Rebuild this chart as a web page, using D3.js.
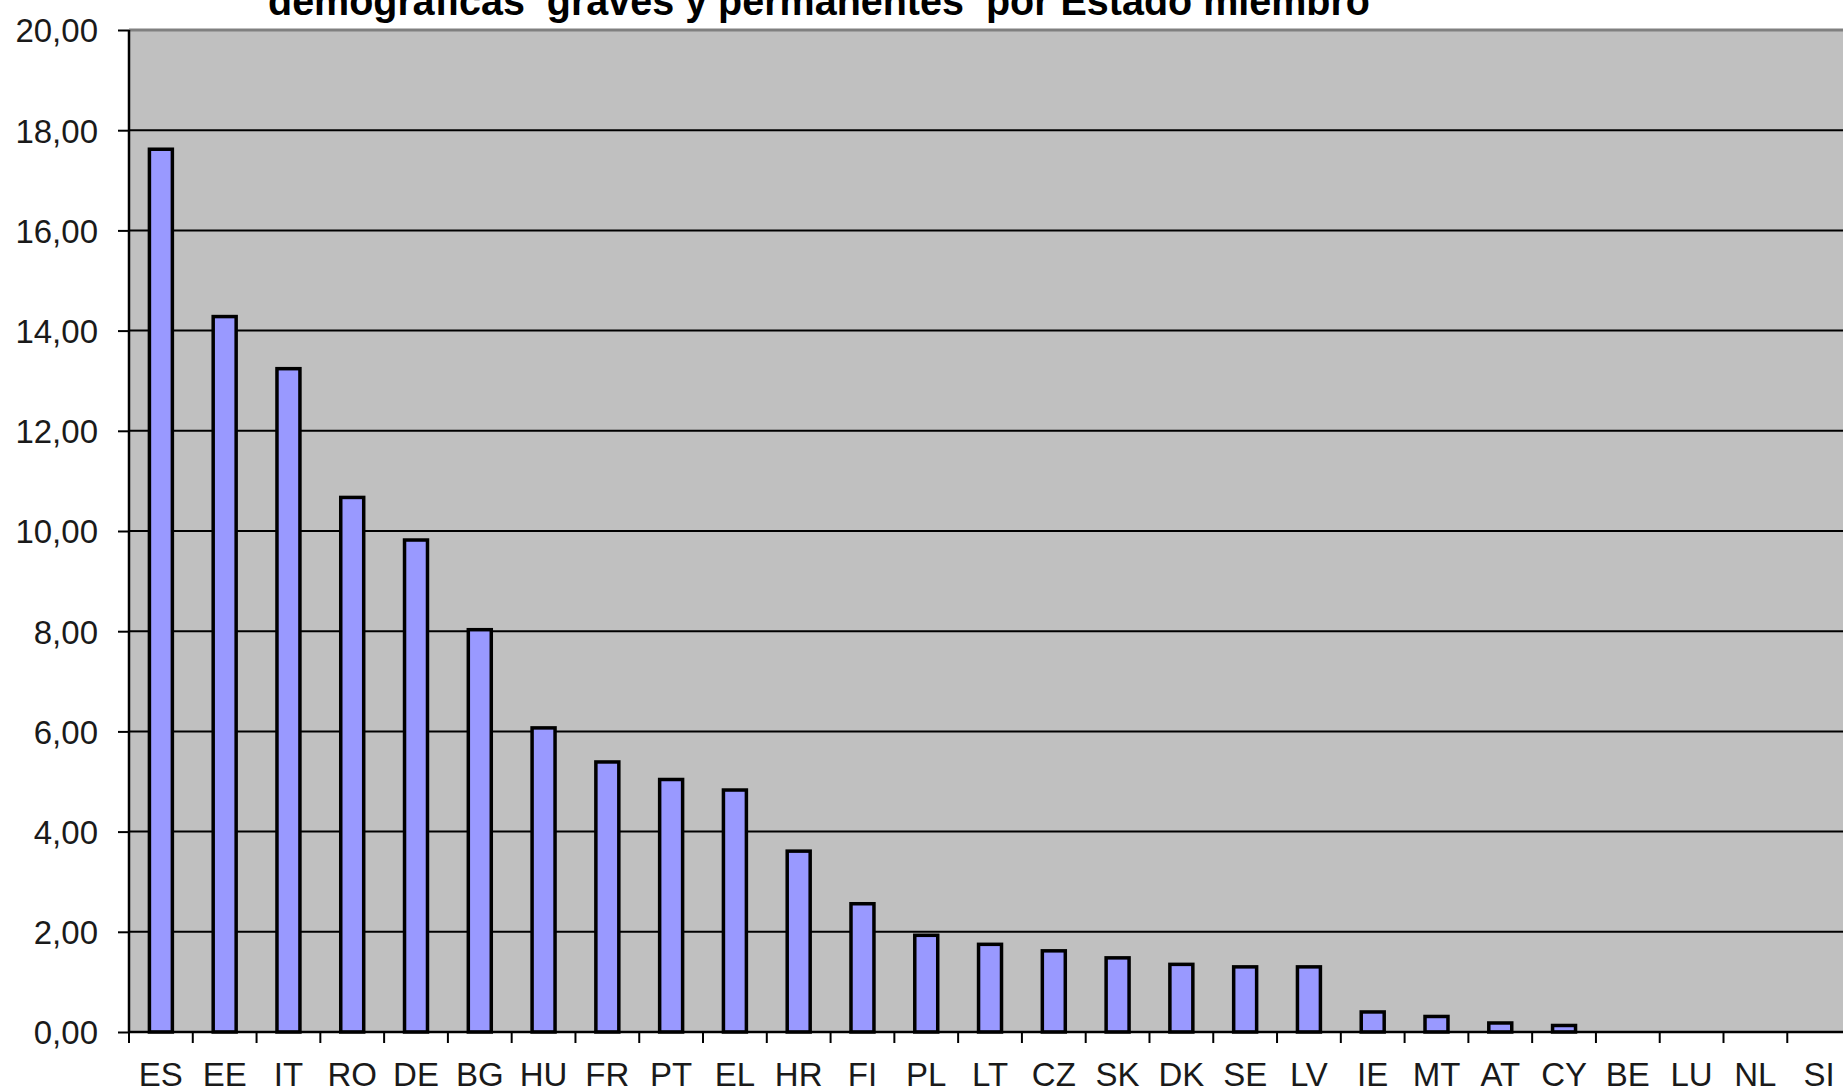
<!DOCTYPE html>
<html>
<head>
<meta charset="utf-8">
<script src="https://cdn.jsdelivr.net/npm/d3@7"></script>
<style>
  html, body { margin: 0; padding: 0; background: #ffffff; overflow: hidden; }
  svg { display: block; }
</style>
</head>
<body>
<svg id="chart" width="1843" height="1092"></svg>
<script>
// ---- data ----
const categories = ["ES","EE","IT","RO","DE","BG","HU","FR","PT","EL","HR","FI","PL","LT","CZ","SK","DK","SE","LV","IE","MT","AT","CY","BE","LU","NL","SI"];
const values = [17.62, 14.28, 13.24, 10.67, 9.82, 8.03, 6.07, 5.39, 5.04, 4.83, 3.61, 2.56, 1.93, 1.75, 1.62, 1.48, 1.35, 1.30, 1.30, 0.40, 0.31, 0.18, 0.13, 0, 0, 0, 0];
const yTicks = [0, 2, 4, 6, 8, 10, 12, 14, 16, 18, 20];
const titleText = "demográficas  graves y permanentes  por Estado miembro";

(function () {
  // ---- layout ----
  const plotLeft = 129, plotTop = 30, plotBottom = 1032;
  const step = 63.78;
  const plotRight = plotLeft + step * categories.length;

  const svg = d3.select("#chart");
  const font = "'Liberation Sans', Arial, sans-serif";

  const x = d3.scaleBand().domain(categories).range([plotLeft, plotRight])
    .paddingInner(0.64).paddingOuter(0.32);
  const y = d3.scaleLinear().domain([0, 20]).range([plotBottom, plotTop]);

  // plot background
  svg.append("rect")
    .attr("x", plotLeft).attr("y", plotTop)
    .attr("width", plotRight - plotLeft).attr("height", plotBottom - plotTop)
    .attr("fill", "#C0C0C0");

  // gridlines
  svg.append("g").selectAll("line")
    .data(yTicks.filter(d => d > 0 && d < 20))
    .join("line")
    .attr("x1", plotLeft).attr("x2", plotRight)
    .attr("y1", d => y(d)).attr("y2", d => y(d))
    .attr("stroke", "#000").attr("stroke-width", 2);

  // top border (grey)
  svg.append("line")
    .attr("x1", plotLeft).attr("x2", plotRight)
    .attr("y1", y(20)).attr("y2", y(20))
    .attr("stroke", "#808080").attr("stroke-width", 3);

  // bars
  svg.append("g").selectAll("rect")
    .data(categories.map((c, i) => ({c, v: values[i]})).filter(d => d.v > 0))
    .join("rect")
    .attr("x", d => x(d.c))
    .attr("y", d => y(d.v))
    .attr("width", x.bandwidth())
    .attr("height", d => y(0) - y(d.v))
    .attr("fill", "#9999FF")
    .attr("stroke", "#000")
    .attr("stroke-width", 3.5);

  // y axis
  const yAxis = d3.axisLeft(y).tickValues(yTicks).tickSize(11).tickPadding(20)
    .tickFormat(d => d3.format(".2f")(d).replace(".", ","));
  const gy = svg.append("g").attr("transform", `translate(${plotLeft},0)`).call(yAxis);
  gy.select(".domain").attr("stroke", "#000").attr("stroke-width", 2.5)
    .attr("d", `M0,${plotTop}V${plotBottom}`);
  gy.selectAll(".tick line").attr("stroke", "#000").attr("stroke-width", 2);
  gy.selectAll(".tick text")
    .attr("font-family", font).attr("font-size", 33).attr("fill", "#1a1a1a")
    .attr("dy", "0.36em");

  // x axis: baseline + ticks between categories
  svg.append("line")
    .attr("x1", plotLeft).attr("x2", plotRight)
    .attr("y1", y(0)).attr("y2", y(0))
    .attr("stroke", "#000").attr("stroke-width", 2.5);
  svg.append("g").selectAll("line")
    .data(categories)
    .join("line")
    .attr("x1", c => x(c) + x.bandwidth() / 2 - x.step() / 2)
    .attr("x2", c => x(c) + x.bandwidth() / 2 - x.step() / 2)
    .attr("y1", y(0)).attr("y2", y(0) + 11)
    .attr("stroke", "#000").attr("stroke-width", 2);

  svg.append("g").selectAll("text")
    .data(categories)
    .join("text")
    .attr("x", c => x(c) + x.bandwidth() / 2)
    .attr("y", 1086)
    .attr("text-anchor", "middle")
    .attr("font-family", font).attr("font-size", 33).attr("fill", "#1a1a1a")
    .text(c => c);

  // title (cut off at top, as in the source image)
  svg.append("text")
    .attr("x", 268).attr("y", 15)
    .attr("font-family", font).attr("font-size", 40).attr("font-weight", "bold")
    .attr("fill", "#000")
    .style("white-space", "pre")
    .attr("textLength", 1102).attr("lengthAdjust", "spacingAndGlyphs")
    .text(titleText);
})();
</script>
</body>
</html>
